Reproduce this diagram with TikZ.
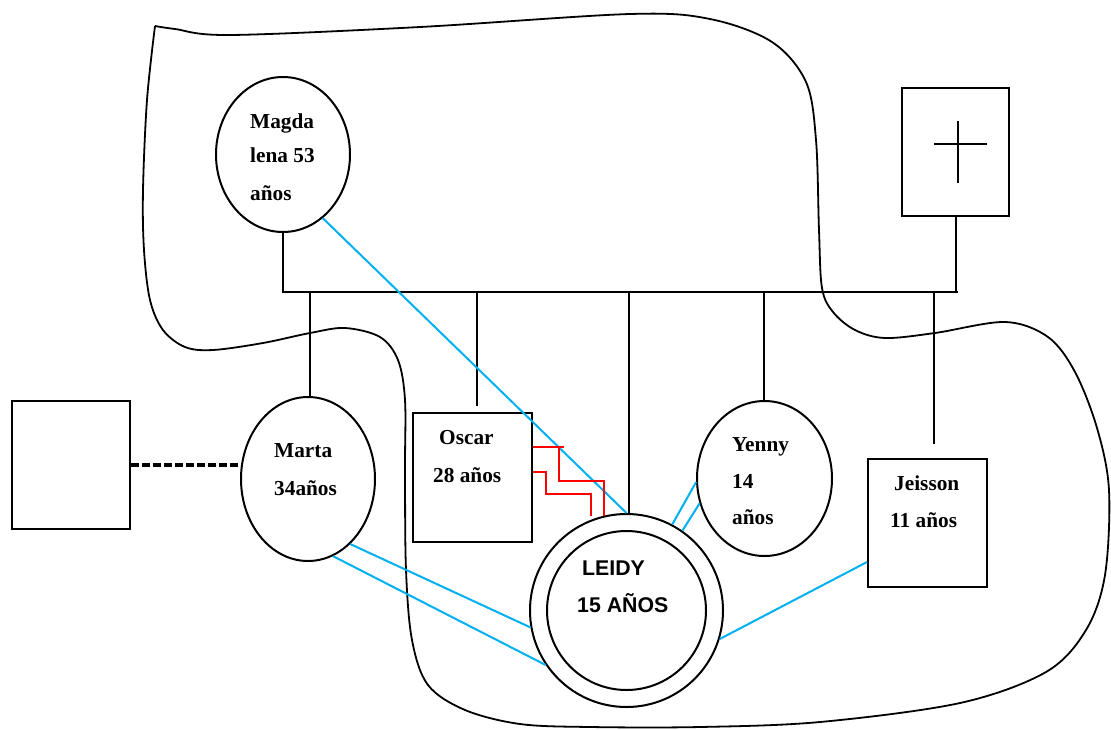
\documentclass[tikz,border=0pt]{standalone}
\usepackage{fontspec}
\setmainfont{Liberation Serif}
\newfontfamily\leidyfont{Liberation Sans}
\usepackage{tikz}
\usetikzlibrary{shapes.geometric}
\definecolor{tieblue}{RGB}{0,176,240}
\definecolor{clashred}{RGB}{255,0,0}
\newcommand{\namefont}{\fontsize{21.3}{25}\selectfont\bfseries}

\begin{document}
\begin{tikzpicture}[
  x=1pt, y=-1pt,
  kin/.style={line width=2pt, black},
  female/.style={draw, ellipse, line width=2pt, inner sep=0pt},
  male/.style={draw, rectangle, line width=2pt, inner sep=0pt},
  tie/.style={line width=2pt, tieblue},
  clash/.style={line width=2pt, clashred},
  nametext/.style={font=\namefont, anchor=base west, inner sep=0pt}
]
\useasboundingbox (0,0) rectangle (1111,729);

% Household boundary
\draw[line width=1.8pt] plot[smooth, tension=0.55] coordinates {
  (155,26) (175,29) (230,35) (420,27) (630,14) (710,19)
  (772,42) (806,82) (816,140) (819,230) (822,288) (833,312) (855,330)
  (885,338) (935,333) (1005,322) (1048,337) (1075,372) (1097,428) (1109,490)
  (1105,575) (1086,630) (1046,672) (960,703) (820,722) (700,727) (590,727)
  (520,724) (465,710) (428,685) (412,640) (406,570) (405,470) (405,400)
  (398,360) (380,337) (345,328) (310,333) (263,343) (213,350) (185,347)
  (163,330) (150,300) (144,250) (143,190) (147,100) (155,26)};

% Parents
\node[female, minimum width=134pt, minimum height=155pt] (magda) at (283,154.5) {};
\node[male, minimum width=107pt, minimum height=128pt] (dec) at (955.5,152) {};
\draw[line width=1.8pt] (958,121) -- (958,183) (934,144) -- (987,144);

\node[nametext] (magda-a) at (250,128) {Magda};
\node[nametext] (magda-b) at (250,162) {lena 53};
\node[nametext] (magda-c) at (250,200) {años};

% Sibling bar
\coordinate (barL) at (283,292);
\coordinate (barR) at (958,292);
\draw[kin] (magda.south) -- (barL) -- (barR);
\draw[kin] (dec.south) -- (dec.south |- barR);

% Children
\node[female, minimum width=134pt, minimum height=164pt] (marta) at (308,479) {};
\node[male, minimum width=119pt, minimum height=129pt] (oscar) at (472.5,477.5) {};
\node[female, minimum width=135pt, minimum height=155pt] (yenny) at (764.5,478.5) {};
\node[male, minimum width=119pt, minimum height=128pt] (jeisson) at (927.5,523) {};
\node[circle, draw, line width=2pt, minimum size=193pt, inner sep=0pt] (leidy) at (626.5,610.5) {};
\node[circle, draw, line width=2pt, minimum size=159pt, inner sep=0pt] (leidy-in) at (leidy.center) {};

\foreach \n/\x/\g in {marta/310/0, oscar/477/6, leidy/629/0, yenny/764/0, jeisson/934/14}{
  \coordinate (drop-\n) at (\x,292);
  \draw[kin, shorten >=\g pt] (drop-\n) -- (drop-\n |- \n.north);
}

\node[nametext] (marta-a) at (274,457) {Marta};
\node[nametext] (marta-b) at (274,495) {34años};
\node[nametext] (oscar-a) at (439,444) {Oscar};
\node[nametext] (oscar-b) at (433,482) {28 años};
\node[nametext] (yenny-a) at (732,451) {Yenny};
\node[nametext] (yenny-b) at (732,488) {14};
\node[nametext] (yenny-c) at (732,524) {años};
\node[nametext] (jeisson-a) at (894,490) {Jeisson};
\node[nametext] (jeisson-b) at (890,527) {11 años};
\node[nametext, font=\namefont\leidyfont] (leidy-a) at (582,575) {LEIDY};
\node[nametext, font=\namefont\leidyfont] (leidy-b) at (577,612) {15 AÑOS};

% Marta's partner
\node[male, minimum width=118pt, minimum height=128pt] (partner) at (71,465) {};
\draw[line width=3.5pt, dash pattern=on 8pt off 3pt] (partner.east) -- (partner.east -| marta.west);

% Close ties
\draw[tie] (magda.-58) -- (leidy.north);
\draw[tie] (marta.-57) -- (leidy.190);
\draw[tie] (marta.-72) -- (leidy.214);
\draw[tie] (yenny.183) -- (leidy.62);
\draw[tie] (yenny.201) -- (leidy.55);
\draw[tie] ([yshift=-39pt]jeisson.west) -- (leidy.-17);

% Conflict with Oscar
\draw[clash] ([yshift=30.5pt]oscar.east) -- ++(31,0);
\draw[clash] ([yshift=30.5pt]oscar.east) ++(26,0) -- ++(0,34) -- ++(45,0) -- ++(0,35);
\draw[clash] ([yshift=5.5pt]oscar.east) -- ++(13,0) -- ++(0,22) -- ++(45,0) -- ++(0,22);

\end{tikzpicture}
\end{document}
